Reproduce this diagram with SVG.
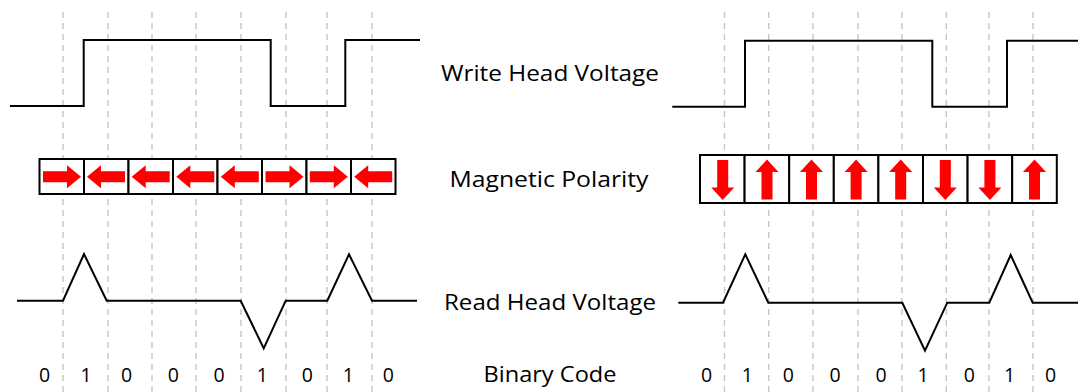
<svg xmlns="http://www.w3.org/2000/svg" width="1078" height="392" viewBox="0 0 1078 392">
<style>
.grid line{stroke:#c6c6c6;stroke-width:1.4;stroke-dasharray:6 5}
.wave{fill:none;stroke:#000;stroke-width:2;stroke-linejoin:miter}
.cell{fill:#fff;stroke:#000;stroke-width:2}
.lbl{font-family:"Open Sans","Liberation Sans",sans-serif;font-size:22px;fill:#000;text-anchor:middle}
.dig{font-family:"Open Sans","Liberation Sans",sans-serif;font-size:19.5px;fill:#000;text-anchor:middle}
.arr{fill:#ff0000}
</style>
<defs>
<path id="ar" class="arr" d="M-19,-5.5H5V-11.5L19,0L5,11.5V5.5H-19Z"/>
<path id="au" class="arr" d="M-5.5,20V-7.5H-11.5L0,-20L11.5,-7.5H5.5V20Z"/>
</defs>
<rect width="1078" height="392" fill="#fff"/>
<g id="grid" class="grid">
<line x1="63" y1="12" x2="63" y2="392"/>
<line x1="108" y1="12" x2="108" y2="392"/>
<line x1="152" y1="12" x2="152" y2="392"/>
<line x1="196" y1="12" x2="196" y2="392"/>
<line x1="241" y1="12" x2="241" y2="392"/>
<line x1="286" y1="12" x2="286" y2="392"/>
<line x1="327" y1="12" x2="327" y2="392"/>
<line x1="372" y1="12" x2="372" y2="392"/>
<line x1="724.5" y1="12" x2="724.5" y2="392"/>
<line x1="768.7" y1="12" x2="768.7" y2="392"/>
<line x1="813" y1="12" x2="813" y2="392"/>
<line x1="858" y1="12" x2="858" y2="392"/>
<line x1="902" y1="12" x2="902" y2="392"/>
<line x1="946.3" y1="12" x2="946.3" y2="392"/>
<line x1="989" y1="12" x2="989" y2="392"/>
<line x1="1033" y1="12" x2="1033" y2="392"/>
</g>
<g id="connectors">
<path id="write-left" class="wave" d="M10,106H83.7V40H270.7V106H345.3V40H420"/>
<path id="write-right" class="wave" d="M672.3,106.7H745V40.7H932.3V106.7H1007V40.7H1078"/>
<path id="read-left" class="wave" d="M17,300.7H63L84,254L106.7,300.7H240.7L263.7,348.3L285.7,300.7H327.3L349,254.3L372,300.7H417"/>
<path id="read-right" class="wave" d="M678.3,302.7H723L745.3,254.3L768.3,302.7H902.3L925,350.7L947.3,302.7H989.3L1010.7,255L1032.7,302.7H1078"/>
</g>
<g id="polarity-left">
<rect class="cell" x="39.5" y="159" width="44.5" height="35"/>
<rect class="cell" x="84" y="159" width="44.5" height="35"/>
<rect class="cell" x="128.5" y="159" width="44.5" height="35"/>
<rect class="cell" x="173" y="159" width="44.5" height="35"/>
<rect class="cell" x="217.5" y="159" width="44.5" height="35"/>
<rect class="cell" x="262" y="159" width="44.5" height="35"/>
<rect class="cell" x="306.5" y="159" width="44.5" height="35"/>
<rect class="cell" x="351" y="159" width="44.5" height="35"/>
<use href="#ar" transform="translate(62,176.7)"/>
<use href="#ar" transform="translate(106,176.7) rotate(180)"/>
<use href="#ar" transform="translate(150.7,176.7) rotate(180)"/>
<use href="#ar" transform="translate(195.3,176.7) rotate(180)"/>
<use href="#ar" transform="translate(239.8,176.7) rotate(180)"/>
<use href="#ar" transform="translate(284.5,176.7)"/>
<use href="#ar" transform="translate(328.8,176.7)"/>
<use href="#ar" transform="translate(373.2,176.7) rotate(180)"/>
</g>
<g id="polarity-right">
<rect class="cell" x="700" y="155" width="44.6" height="48"/>
<rect class="cell" x="744.6" y="155" width="44.6" height="48"/>
<rect class="cell" x="789.2" y="155" width="44.6" height="48"/>
<rect class="cell" x="833.8" y="155" width="44.6" height="48"/>
<rect class="cell" x="878.4" y="155" width="44.6" height="48"/>
<rect class="cell" x="923" y="155" width="44.6" height="48"/>
<rect class="cell" x="967.6" y="155" width="44.6" height="48"/>
<rect class="cell" x="1012.2" y="155" width="44.6" height="48"/>
<use href="#au" transform="translate(722.7,180) rotate(180)"/>
<use href="#au" transform="translate(767,179.5)"/>
<use href="#au" transform="translate(811.5,179.5)"/>
<use href="#au" transform="translate(856.1,179.5)"/>
<use href="#au" transform="translate(900.7,179.5)"/>
<use href="#au" transform="translate(945.3,180) rotate(180)"/>
<use href="#au" transform="translate(989.9,180) rotate(180)"/>
<use href="#au" transform="translate(1034.5,179.5)"/>
</g>
<g id="labels">
<text class="lbl" x="550" y="81" textLength="218" lengthAdjust="spacingAndGlyphs">Write Head Voltage</text>
<text class="lbl" x="549" y="187" textLength="199" lengthAdjust="spacingAndGlyphs">Magnetic Polarity</text>
<text class="lbl" x="550" y="310" textLength="212" lengthAdjust="spacingAndGlyphs">Read Head Voltage</text>
<text class="lbl" x="550" y="381.5" textLength="133" lengthAdjust="spacingAndGlyphs">Binary Code</text>
</g>
<g id="binary-left">
<text class="dig" x="44.5" y="381.5">0</text>
<text class="dig" x="86" y="381.5">1</text>
<text class="dig" x="126.7" y="381.5">0</text>
<text class="dig" x="173.3" y="381.5">0</text>
<text class="dig" x="219" y="381.5">0</text>
<text class="dig" x="262.3" y="381.5">1</text>
<text class="dig" x="307.3" y="381.5">0</text>
<text class="dig" x="348.3" y="381.5">1</text>
<text class="dig" x="388.3" y="381.5">0</text>
</g>
<g id="binary-right">
<text class="dig" x="706.7" y="381.5">0</text>
<text class="dig" x="747.3" y="381.5">1</text>
<text class="dig" x="788.3" y="381.5">0</text>
<text class="dig" x="835" y="381.5">0</text>
<text class="dig" x="881" y="381.5">0</text>
<text class="dig" x="923" y="381.5">1</text>
<text class="dig" x="969.3" y="381.5">0</text>
<text class="dig" x="1009.7" y="381.5">1</text>
<text class="dig" x="1050.7" y="381.5">0</text>
</g>
</svg>
